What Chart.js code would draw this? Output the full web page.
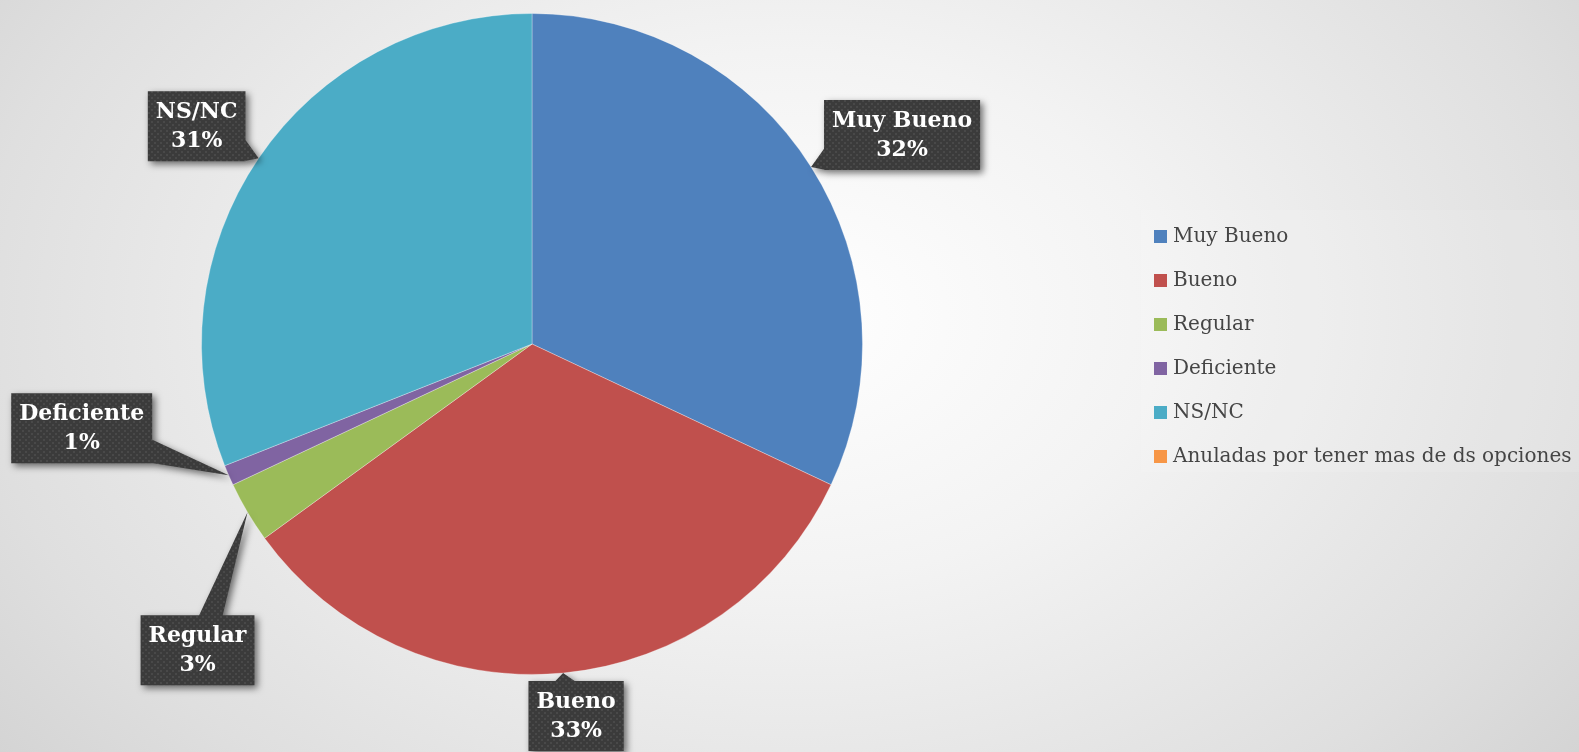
<!DOCTYPE html>
<html>
<head>
<meta charset="utf-8">
<script src="https://cdn.jsdelivr.net/npm/chart.js@4.4.1/dist/chart.umd.min.js"></script>
<style>
  html, body { margin: 0; padding: 0; }
  body {
    width: 1579px; height: 752px; overflow: hidden; position: relative;
    background: radial-gradient(ellipse 1250px 880px at 50% 42%, #ffffff 0%, #f3f3f3 30%, #dfdfdf 65%, #c6c6c6 100%);
  }
  #cv { position: absolute; left: 0; top: 0; }
  #legend {
    position: absolute; left: 1141px; top: 210px; width: 438px; height: 262px;
    background: rgba(255,255,255,0.10);
    font-family: "DejaVu Serif", serif; font-size: 20px; color: #454545;
  }
  .item { position: absolute; left: 13px; height: 24px; line-height: 24px; white-space: nowrap; }
  .item span.box { display: inline-block; width: 13px; height: 13px; margin-right: 6px; vertical-align: -1px; }
</style>
</head>
<body>
<canvas id="cv" width="1579" height="752"></canvas>
<div id="legend"></div>
<script>
const labels = ['Muy Bueno', 'Bueno', 'Regular', 'Deficiente', 'NS/NC', 'Anuladas por tener mas de ds opciones']
const values = [32, 33, 3, 1, 31, 0]
const colors = ['#4f81bd', '#c0504d', '#9bbb59', '#8064a2', '#4bacc6', '#f79646']

// where each callout box sits, relative to the point on the rim at the slice's mid angle
const calloutOffset = {
  'Muy Bueno': [91, -32],
  'Bueno': [13, 43],
  'Regular': [-50, 138],
  'Deficiente': [-147, -47],
  'NS/NC': [-62, -32]
}

const LABEL_FONT = 'bold 22px "DejaVu Serif", serif'
const LINE_H = 29
const WEDGE_HALF = 12

function dotPattern(ctx) {
  const p = document.createElement('canvas')
  p.width = 6; p.height = 6
  const c = p.getContext('2d')
  c.fillStyle = '#3b3b3b'
  c.fillRect(0, 0, 6, 6)
  c.fillStyle = '#494949'
  c.fillRect(1, 1, 2, 2)
  c.fillRect(4, 4, 2, 2)
  return ctx.createPattern(p, 'repeat')
}

// base of the wedge: a short segment on the box side that the tip->centre line crosses
function wedgeBase(tx, ty, x0, y0, w, h) {
  const cx = x0 + w / 2, cy = y0 + h / 2
  const dx = cx - tx, dy = cy - ty
  const clamp = (v, a, b) => Math.min(Math.max(v, a), b)
  // try vertical sides first, then horizontal ones
  const tX = dx !== 0 ? ((dx > 0 ? x0 : x0 + w) - tx) / dx : Infinity
  const tY = dy !== 0 ? ((dy > 0 ? y0 : y0 + h) - ty) / dy : Infinity
  if (tX > tY) {
    const ex = dx > 0 ? x0 + 2 : x0 + w - 2
    const my = clamp(ty + dy * tX, y0 + WEDGE_HALF, y0 + h - WEDGE_HALF)
    return [[ex, my - WEDGE_HALF], [ex, my + WEDGE_HALF]]
  }
  const ey = dy > 0 ? y0 + 2 : y0 + h - 2
  const mx = clamp(tx + dx * tY, x0 + WEDGE_HALF, x0 + w - WEDGE_HALF)
  return [[mx - WEDGE_HALF, ey], [mx + WEDGE_HALF, ey]]
}

const callouts = {
  id: 'callouts',
  afterDatasetsDraw(chart) {
    const ctx = chart.ctx
    const meta = chart.getDatasetMeta(0)
    const fillPat = dotPattern(ctx)
    ctx.save()
    ctx.font = LABEL_FONT
    meta.data.forEach((arc, i) => {
      if (!values[i]) return
      const off = calloutOffset[labels[i]]
      if (!off) return
      const mid = (arc.startAngle + arc.endAngle) / 2
      const tx = arc.x + Math.cos(mid) * arc.outerRadius
      const ty = arc.y + Math.sin(mid) * arc.outerRadius
      const cx = tx + off[0], cy = ty + off[1]
      const line1 = labels[i], line2 = values[i] + '%'
      const w = Math.max(ctx.measureText(line1).width, ctx.measureText(line2).width) + 16
      const h = LINE_H * 2 + 12
      const x0 = cx - w / 2, y0 = cy - h / 2

      let [p1, p2] = wedgeBase(tx, ty, x0, y0, w, h)
      const cross = (p1[0] - tx) * (p2[1] - ty) - (p1[1] - ty) * (p2[0] - tx)
      if (cross < 0) { const t = p1; p1 = p2; p2 = t }

      ctx.beginPath()
      ctx.rect(x0, y0, w, h)
      ctx.moveTo(tx, ty)
      ctx.lineTo(p1[0], p1[1])
      ctx.lineTo(p2[0], p2[1])
      ctx.closePath()
      ctx.shadowColor = 'rgba(0,0,0,0.55)'
      ctx.shadowBlur = 7
      ctx.shadowOffsetX = 3
      ctx.shadowOffsetY = 3
      ctx.fillStyle = fillPat
      ctx.fill('nonzero')
      ctx.shadowColor = 'transparent'

      ctx.fillStyle = '#ffffff'
      ctx.textAlign = 'center'
      ctx.textBaseline = 'middle'
      ctx.fillText(line1, cx, cy - LINE_H / 2 + 1)
      ctx.fillText(line2, cx, cy + LINE_H / 2 + 1)
    })
    ctx.restore()
  }
}

chart = new Chart(document.getElementById('cv').getContext('2d'), {
  type: 'pie',
  data: {
    labels: labels,
    datasets: [{
      data: values,
      backgroundColor: colors,
      borderColor: 'rgba(255,255,255,0.3)',
      borderWidth: 1
    }]
  },
  options: {
    responsive: false,
    animation: false,
    layout: { padding: { left: 201, right: 716, top: 13, bottom: 77 } },
    plugins: {
      legend: { display: false },
      tooltip: { enabled: false }
    }
  },
  plugins: [callouts]
})

// legend on the right
const legend = document.getElementById('legend')
labels.forEach((l, i) => {
  const d = document.createElement('div')
  d.className = 'item'
  d.style.top = (13 + 44 * i) + 'px'
  d.innerHTML = '<span class="box" style="background:' + colors[i] + '"></span>' + l
  legend.appendChild(d)
})
</script>
</body>
</html>
